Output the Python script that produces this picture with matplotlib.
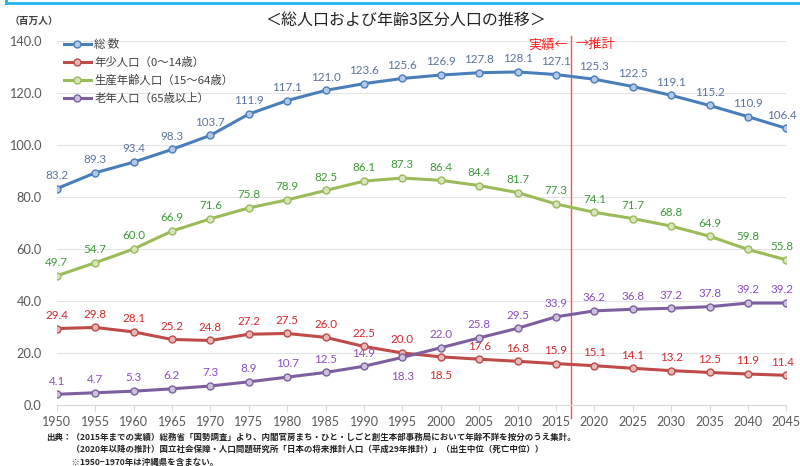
"""総人口および年齢3区分人口の推移 — line chart with data labels."""

import matplotlib
matplotlib.use("Agg")
import matplotlib.pyplot as plt
from matplotlib.lines import Line2D

plt.rcParams["font.family"] = ["Noto Sans CJK JP", "DejaVu Sans"]
NUM_FONT = ["Lato", "DejaVu Sans"]

YEARS = [1950, 1955, 1960, 1965, 1970, 1975, 1980, 1985, 1990, 1995,
         2000, 2005, 2010, 2015, 2020, 2025, 2030, 2035, 2040, 2045]

TOTAL = [83.2, 89.3, 93.4, 98.3, 103.7, 111.9, 117.1, 121.0, 123.6, 125.6,
         126.9, 127.8, 128.1, 127.1, 125.3, 122.5, 119.1, 115.2, 110.9, 106.4]
YOUNG = [29.4, 29.8, 28.1, 25.2, 24.8, 27.2, 27.5, 26.0, 22.5, 20.0,
         18.5, 17.6, 16.8, 15.9, 15.1, 14.1, 13.2, 12.5, 11.9, 11.4]
WORKING = [49.7, 54.7, 60.0, 66.9, 71.6, 75.8, 78.9, 82.5, 86.1, 87.3,
           86.4, 84.4, 81.7, 77.3, 74.1, 71.7, 68.8, 64.9, 59.8, 55.8]
ELDERLY = [4.1, 4.7, 5.3, 6.2, 7.3, 8.9, 10.7, 12.5, 14.9, 18.3,
           22.0, 25.8, 29.5, 33.9, 36.2, 36.8, 37.2, 37.8, 39.2, 39.2]

LABELS = ["総 数", "年少人口（0～14歳）", "生産年齢人口（15～64歳）", "老年人口（65歳以上）"]
Y_TICKS = [0, 20, 40, 60, 80, 100, 120, 140]

NOTES = [
    "出典：（2015年までの実績）総務省「国勢調査」より、内閣官房まち・ひと・しごと創生本部事務局において年齢不詳を按分のうえ集計。",
    "　　　（2020年以降の推計）国立社会保障・人口問題研究所「日本の将来推計人口（平成29年推計）」（出生中位（死亡中位））",
    "　　　※1950−1970年は沖縄県を含まない。",
]

# line colour, marker fill, label colour
STYLES = [
    ("#4A7EBB", "#B4C7E7", "#5A7399"),
    ("#BE4B48", "#E6B9B8", "#D6282D"),
    ("#9BBB59", "#D7E4BD", "#3F9A3A"),
    ("#7D5FA0", "#CCC1DA", "#8A4FBF"),
]

fig = plt.figure(figsize=(8.0, 4.66), dpi=100)
ax = fig.add_axes([0.071, 0.131, 0.912, 0.781])

series = [TOTAL, YOUNG, WORKING, ELDERLY]
for vals, label, (lc, fc, tc) in zip(series, LABELS, STYLES):
    ax.plot(YEARS, vals, color=lc, lw=2.2, marker="o", markersize=5,
            markerfacecolor=fc, markeredgecolor=lc, markeredgewidth=1.0,
            label=label, zorder=3)
    for yr, v in zip(YEARS, vals):
        below = (vals is YOUNG and yr == 2000) or (vals is ELDERLY and yr == 1995)
        off = -13.5 if below else 9.5
        dx = -3 if yr == YEARS[-1] else 0
        ax.annotate(f"{v:.1f}", (yr, v), xytext=(dx, off), textcoords="offset points",
                    ha="center", va="center", fontsize=8.4, color=tc, family=NUM_FONT)

ax.set_xlim(1950, 2045)
ax.set_ylim(0, 140)
ax.set_xticks(YEARS)
ax.set_yticks(Y_TICKS)
ax.set_yticklabels([f"{t:.1f}" for t in Y_TICKS])
ax.tick_params(axis="y", length=0, labelsize=9.2, colors="#595959", pad=11)
ax.tick_params(axis="x", length=4, width=0.8, color="#D9D9D9", labelsize=9.0,
               labelcolor="#595959", pad=4)
for lab in ax.get_xticklabels() + ax.get_yticklabels():
    lab.set_family(NUM_FONT)
for s in ["top", "right", "left"]:
    ax.spines[s].set_visible(False)
ax.spines["bottom"].set_color("#D9D9D9")
ax.grid(True, axis="y", color="#E3E3E3", lw=0.8)
ax.set_axisbelow(True)

# actual / projection divider
ax.axvline(2017, ymin=-0.035, ymax=1.015, color="#FF5050", lw=1.0, clip_on=False, zorder=2)
ax.text(2016.6, 138.5, "実績←", ha="right", va="center", fontsize=9.5, color="#FF2020")
ax.text(2017.6, 138.5, "→推計", ha="left", va="center", fontsize=9.5, color="#FF2020")

ax.legend(loc="upper left", bbox_to_anchor=(0.0, 1.025), frameon=False, fontsize=8.2,
          handlelength=2.4, labelspacing=0.62, borderaxespad=0.2, handletextpad=0.3,
          labelcolor="#404040")

fig.text(0.507, 0.957, "＜総人口および年齢3区分人口の推移＞", ha="center", va="center",
         fontsize=11.5, color="#222222")
fig.text(0.012, 0.955, "（百万人）", ha="left", va="center", fontsize=7, color="#404040",
         weight="bold")

for i, line in enumerate(NOTES):
    fig.text(0.058, 0.062 - i * 0.027, line, ha="left", va="center", fontsize=6.1,
             color="#222222", weight="bold")

# cyan frame edge along the top
fig.add_artist(Line2D([0.007, 1.0], [0.993, 0.993], color="#1EB4F0", lw=2.0,
                      transform=fig.transFigure))
fig.add_artist(Line2D([0.007, 0.007], [0.993, 1.0], color="#1EB4F0", lw=2.0,
                      transform=fig.transFigure))

fig.savefig("out.png", dpi=100)
